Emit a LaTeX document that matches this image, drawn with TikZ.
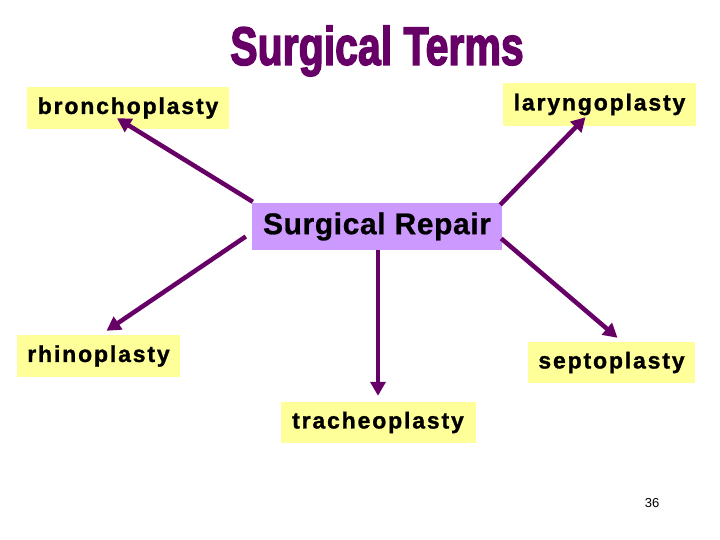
\documentclass[tikz,border=0pt]{standalone}
\usepackage{fontspec}
\setmainfont{Liberation Sans}
\newfontfamily\lab[LetterSpace=8,BoldFeatures={FakeBold=1.2}]{Liberation Sans}
\newfontfamily\rep[LetterSpace=2,BoldFeatures={FakeBold=0.8}]{Liberation Sans}
\newfontfamily\ttl[BoldFeatures={FakeBold=3}]{Liberation Sans}
\usetikzlibrary{arrows.meta,calc}
\definecolor{plum}{RGB}{102,0,102}
\definecolor{ybox}{RGB}{255,255,153}
\definecolor{pbox}{RGB}{204,153,255}
\tikzset{
  term/.style={fill=ybox, inner sep=0pt, font=\lab\bfseries\fontsize{23}{23}\selectfont, text=black},
  link/.style={draw=plum, line width=4.5pt, -{Triangle[length=14pt,width=15pt]}}
}
\begin{document}
\begin{tikzpicture}[x=1pt,y=-1pt]
\useasboundingbox (0,0) rectangle (720,540);
\fill[white] (0,0) rectangle (720,540);
\node[font=\ttl\bfseries\fontsize{54}{54}\selectfont, text=plum, xscale=0.76, inner sep=0pt] (title) at (377,51) {Surgical Terms};
\node[fill=pbox, inner sep=0pt, minimum width=250pt, minimum height=47pt, font=\rep\bfseries\fontsize{30}{30}\selectfont] (repair) at (377,226.5) {Surgical Repair};
\node[term, minimum width=202pt, minimum height=42pt] (bro) at (128,108) {bronchoplasty};
\node[term, minimum width=193pt, minimum height=43pt] (lar) at (599.5,104.5) {laryngoplasty};
\node[term, minimum width=163pt, minimum height=42pt] (rhi) at (98.5,356) {rhinoplasty};
\node[term, minimum width=167pt, minimum height=41pt] (sep) at (611.5,362.5) {septoplasty};
\node[term, minimum width=195pt, minimum height=41pt] (tra) at (378,422.5) {tracheoplasty};
\node[font=\fontsize{13}{13}\selectfont, inner sep=0pt] (pg) at (652,503) {36};
\draw[link] ($(repair.north west)+(1,-1)$) -- ($(bro.south)+(-11,-11)$);
\draw[link] ($(repair.north east)+(-2,2)$) -- ($(lar.south)+(-14,-9)$);
\draw[link] ($(repair.west)+(-6,10)$) -- ($(rhi.north)+(8,-4)$);
\draw[link] ($(repair.east)+(-1,12)$) -- ($(sep.north)+(6,-4)$);
\draw[link] ($(repair.south)+(1,0)$) -- ($(tra.north)+(0,-6)$);
\end{tikzpicture}
\end{document}
